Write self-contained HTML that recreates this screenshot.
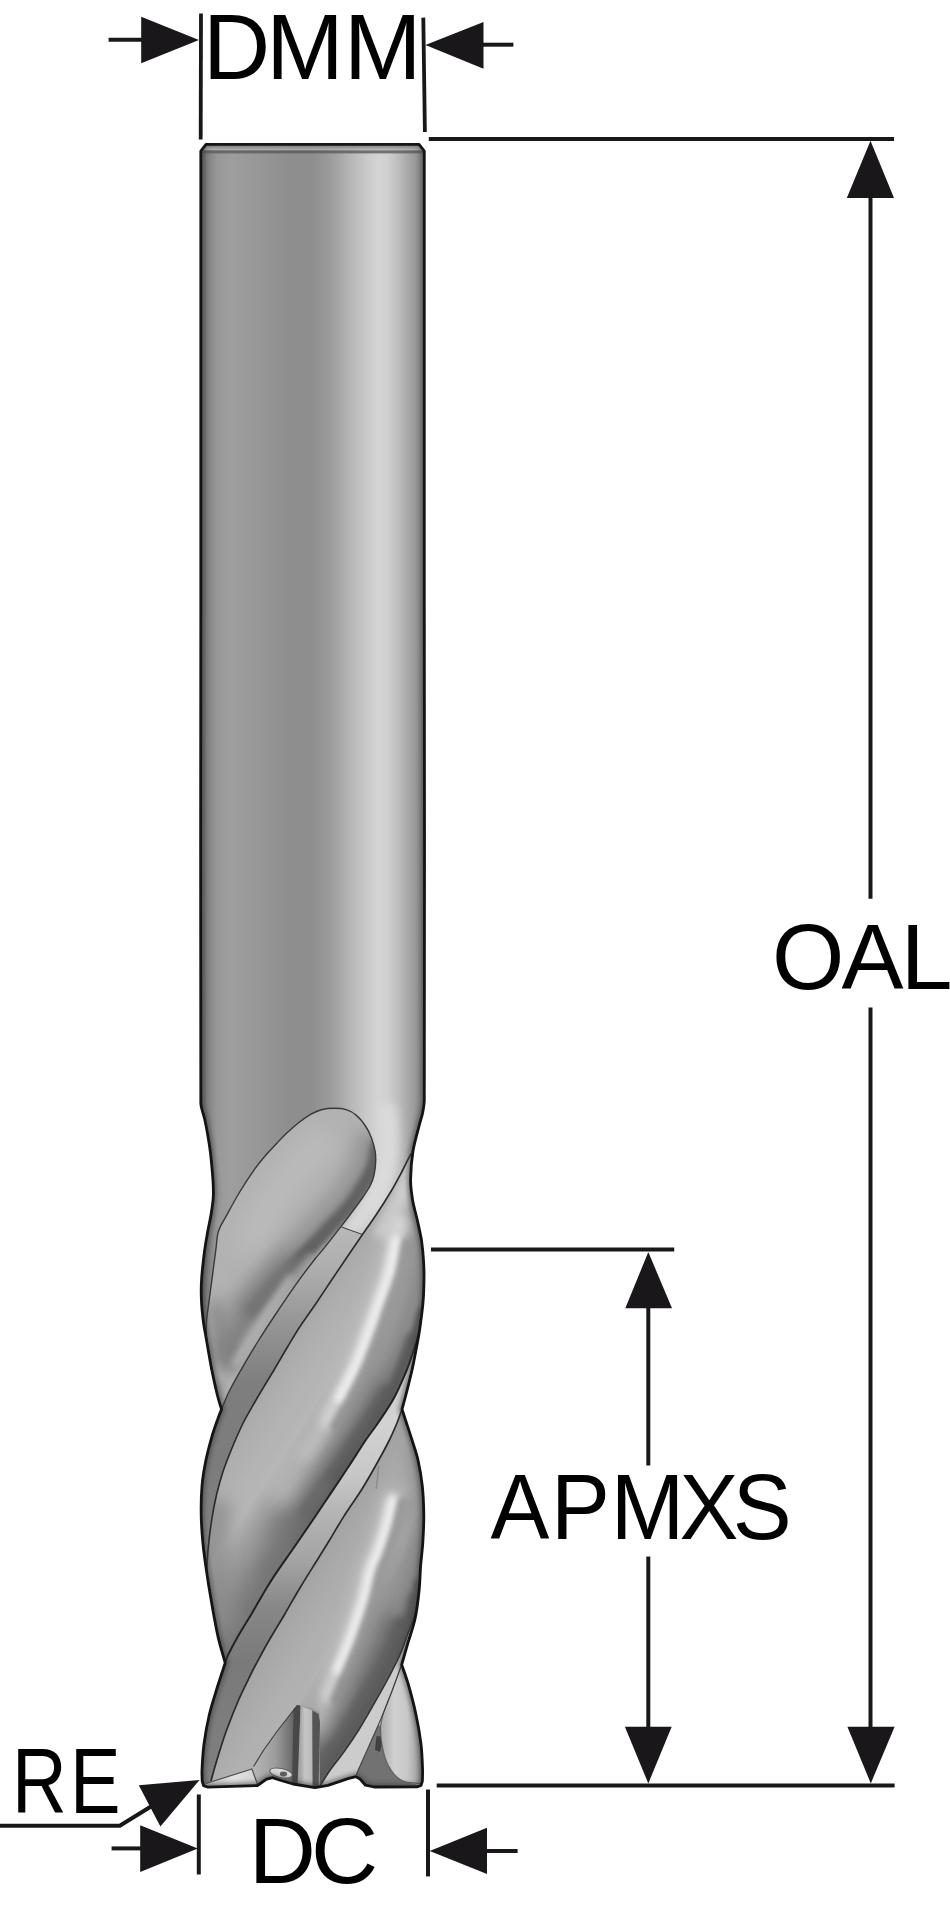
<!DOCTYPE html>
<html lang="en"><head><meta charset="utf-8"><title>End mill dimensions: DMM, OAL, APMXS, RE, DC</title>
<style>html,body{margin:0;padding:0;background:#fff}body{width:950px;height:1906px;overflow:hidden}svg{display:block}text{font-family:"Liberation Sans",Arial,Helvetica,sans-serif;fill:#000}</style>
</head><body>
<svg width="950" height="1906" viewBox="0 0 950 1906">
<defs><linearGradient id="gShank" gradientUnits="userSpaceOnUse" x1="199" y1="0" x2="426" y2="0"><stop offset="0" stop-color="#5a5a5a"/><stop offset="0.012" stop-color="#6a6a6a"/><stop offset="0.04" stop-color="#828282"/><stop offset="0.08" stop-color="#989898"/><stop offset="0.14" stop-color="#9e9e9e"/><stop offset="0.25" stop-color="#989898"/><stop offset="0.4" stop-color="#8e8e8e"/><stop offset="0.5" stop-color="#8e8e8e"/><stop offset="0.58" stop-color="#9c9c9c"/><stop offset="0.66" stop-color="#b4b4b4"/><stop offset="0.74" stop-color="#cacaca"/><stop offset="0.79" stop-color="#d4d4d4"/><stop offset="0.83" stop-color="#d0d0d0"/><stop offset="0.89" stop-color="#b8b8b8"/><stop offset="0.95" stop-color="#9a9a9a"/><stop offset="0.985" stop-color="#848484"/><stop offset="1" stop-color="#606060"/></linearGradient>
<clipPath id="cBody"><path d="M200.8 152.5L200.8 151L206 144.3L419 144.3L424.3 151L424.3 152.5C424.3 301.7 424.3 450.8 424.3 600C424.3 766.7 424.9 933.3 424.3 1100C424.3 1104.4 423.4 1108.7 422.6 1113C421.9 1116.7 420.5 1120.3 419.6 1124C417.3 1133 414.5 1141.9 413 1151C411.5 1160.4 410.7 1170 410.6 1179.5C410.5 1186.4 411.5 1193.2 412.6 1200C413.7 1206.8 415.8 1213.3 417.3 1220C418.8 1227 420.5 1233.9 421.6 1241C422.6 1248 423.2 1255 423.6 1262C424 1267.7 424.1 1273.3 424 1279C423.9 1286.9 423.7 1294.8 423 1302.7C422.2 1311.8 420.9 1320.9 419.6 1330C418.6 1336.7 417.3 1343.3 416 1350C414.7 1357 413.4 1364 411.8 1371C409.9 1379.4 407.7 1387.7 405.6 1396C404.5 1400.4 403.2 1404.9 402 1409.3L402 1409.3C403.5 1413.8 404.9 1418.2 406.4 1422.7C408.3 1428.5 410.2 1434.2 412 1440C414.1 1446.6 416.5 1453.2 418 1460C419.9 1468.6 421.4 1477.3 422.3 1486C423.3 1495.5 423.7 1505.1 423.8 1514.7C423.9 1524.1 423.4 1533.6 422.8 1543C422.3 1550.7 421.2 1558.3 420.6 1566C420 1573.8 420 1581.7 419.2 1589.5C418.2 1599.4 417.1 1609.3 415 1619C413 1628.2 409.6 1637 407 1646C405.2 1652.2 403.5 1658.4 401.7 1664.6L401.7 1664.6C404 1671.4 406.5 1678.1 408.5 1685C411.3 1694.8 413.9 1704.7 416 1714.7C418.1 1724.4 419.8 1734.2 421 1744C422 1752.6 422.3 1761.3 422.6 1770C422.7 1773.7 422.5 1777.3 422.4 1781L421 1785.5L417 1786.8L374 1787L365.5 1785.2L360 1779L355.8 1776.6L348 1778.7L328 1785.3L315 1787.7L293 1784L281 1780.5L272.5 1777.6L266.6 1779.2L257.5 1785.5L208 1787.2L203.5 1785.6L202.2 1781C202.1 1777.3 201.8 1773.7 202 1770C202.4 1761.3 202.9 1752.6 204 1744C205.3 1734.2 207 1724.4 209.3 1714.7C211.7 1704.7 215 1694.9 218 1685C220.3 1677.6 222.8 1670.3 225.2 1663L225.2 1663C222.8 1654.2 220 1645.5 218 1636.6C215.1 1623.4 212.9 1610.1 210.6 1596.8C209.1 1588.4 207.8 1580 206.6 1571.6C205.2 1562.1 203.8 1552.6 202.9 1543C202 1533.6 201.3 1524.1 201.2 1514.7C201 1505.1 201.2 1495.5 202 1486C202.7 1477.5 204.1 1469.1 205.8 1460.8C207.4 1452.9 209.5 1445.1 211.7 1437.3C213.4 1431.3 215.5 1425.5 217.6 1419.6C218.8 1416.1 220.2 1412.7 221.5 1409.3L221.5 1409.3C220.2 1404.9 218.7 1400.5 217.6 1396C215.4 1387.2 213.5 1378.4 211.7 1369.5C209.8 1359.7 208.2 1349.8 206.5 1340C205.5 1334 204.2 1328 203.4 1322C202.5 1314.7 201.7 1307.4 201.4 1300C201.1 1293 201.1 1286 201.6 1279C202.2 1269.5 203.4 1260 204.6 1250.5C205.4 1244.2 206.6 1237.9 207.7 1231.6C208.7 1225.9 210.1 1220.4 211 1214.7C211.9 1209.2 212.8 1203.6 213.2 1198C213.5 1193.7 213.4 1189.3 213.2 1185C213 1179.5 212.5 1173.9 212 1168.4C211.5 1162.8 211 1157.2 210.3 1151.6C209.6 1145.9 208.7 1140.3 207.7 1134.7C206.7 1129.1 205.7 1123.5 204.4 1118C203.8 1115.5 202.8 1113 202.2 1110.5C201.6 1108 200.8 1105.5 200.8 1103C200.3 935.3 200.8 767.7 200.8 600C200.8 450.8 200.8 301.7 200.8 152.5Z"/></clipPath>
<filter id="b2" filterUnits="userSpaceOnUse" x="120" y="1040" width="400" height="800"><feGaussianBlur stdDeviation="2"/></filter>
<filter id="b3" filterUnits="userSpaceOnUse" x="120" y="1040" width="400" height="800"><feGaussianBlur stdDeviation="3"/></filter>
<filter id="b5" filterUnits="userSpaceOnUse" x="120" y="1040" width="400" height="800"><feGaussianBlur stdDeviation="5"/></filter>
<filter id="b8" filterUnits="userSpaceOnUse" x="120" y="1040" width="400" height="800"><feGaussianBlur stdDeviation="8"/></filter>
<filter id="b12" filterUnits="userSpaceOnUse" x="120" y="1040" width="400" height="800"><feGaussianBlur stdDeviation="12"/></filter>
<filter id="b1" filterUnits="userSpaceOnUse" x="120" y="1040" width="400" height="800"><feGaussianBlur stdDeviation="1"/></filter>
<filter id="b06" filterUnits="userSpaceOnUse" x="120" y="1040" width="400" height="800"><feGaussianBlur stdDeviation="0.6"/></filter>
<filter id="bEdge" filterUnits="userSpaceOnUse" x="150" y="100" width="330" height="1740"><feGaussianBlur stdDeviation="2.2"/></filter>
<clipPath id="cF1"><path d="M221.5 1409.3C224 1403.4 226.1 1397.4 229 1391.7C233.3 1383.1 238.2 1374.8 243 1366.4C247.9 1357.8 253 1349.4 258.2 1341C264.3 1331.2 270.7 1321.6 277.1 1312C283.3 1302.7 289.5 1293.4 296 1284.3C302.1 1275.7 308.5 1267.3 315 1259C318 1255.1 321.4 1251.5 324.5 1247.6C329.6 1241.3 334.6 1234.8 339.6 1228.4C344.6 1222 349.5 1215.5 354.3 1209C357.3 1205 360.2 1201.1 363 1197C365.6 1193.1 368.4 1189.2 370.5 1185C372.1 1181.8 373.2 1178.4 374 1175C374.9 1171.1 375.4 1167 375.6 1163C375.8 1159 375.8 1154.9 375.1 1151C374.3 1146.5 373 1142 371.4 1137.7C369.8 1133.6 367.9 1129.6 365.5 1126C363 1122.2 360.2 1118.5 356.7 1115.6C353.7 1113 350.2 1110.9 346.4 1109.7C342.6 1108.5 338.6 1108.3 334.6 1108.3C330.1 1108.3 325.6 1108.6 321.3 1109.7C317.7 1110.6 314.3 1112.3 311 1114.2C306.9 1116.6 303 1119.4 299.2 1122.3C295.1 1125.5 291.2 1129 287.4 1132.6C283.8 1135.9 280.5 1139.4 277.1 1142.9C273.6 1146.5 270.1 1150.2 266.8 1154C262.7 1158.8 258.6 1163.6 255 1168.7C249.6 1176.3 244.5 1184.1 239.7 1192C235.2 1199.4 231.1 1207.1 227 1214.7C224.1 1220.1 220.4 1225.2 218.5 1231C216.7 1236.6 216.8 1242.6 216 1248.4C214.7 1257.9 213.6 1267.3 212.3 1276.8C211.1 1286.2 209.7 1295.6 208.5 1305C207.8 1310.7 206.8 1316.3 206.5 1322C206.2 1328 206.5 1334 206.5 1340C208.2 1349.8 209.8 1359.7 211.7 1369.5C213.5 1378.4 215.4 1387.2 217.6 1396C218.7 1400.5 220.2 1404.9 221.5 1409.3Z"/></clipPath>
<clipPath id="cTop"><path d="M352.2 1113C353.7 1113.9 355.5 1114.4 356.7 1115.6C360 1118.8 363 1122.2 365.5 1126C367.9 1129.6 369.8 1133.6 371.4 1137.7C373 1142 374.3 1146.5 375.1 1151C375.8 1154.9 375.8 1159 375.6 1163C375.4 1167 374.9 1171.1 374 1175C373.2 1178.4 372.1 1181.8 370.5 1185C368.4 1189.2 365.6 1193.1 363 1197C360.2 1201.1 357.3 1205 354.3 1209C349.8 1215.1 345.1 1221.1 340.5 1227.2L362.5 1234.5C367 1228 371.6 1221.6 376 1215C380.8 1207.8 385.5 1200.5 390 1193C394.2 1186 398.1 1178.7 402 1171.5C404.5 1166.9 406.6 1162.1 409 1157.5C409.7 1156.1 410.7 1154.8 411.5 1153.5L430 1140L430 1085L355 1085Z"/></clipPath>
<clipPath id="cL1"><path d="M340.5 1227.2C340.2 1227.6 339.9 1228 339.6 1228.4C334.6 1234.8 329.6 1241.3 324.5 1247.6C321.4 1251.5 318 1255.1 315 1259C308.5 1267.3 302.1 1275.7 296 1284.3C289.5 1293.4 283.3 1302.7 277.1 1312C270.7 1321.6 264.3 1331.2 258.2 1341C253 1349.4 247.9 1357.8 243 1366.4C238.2 1374.8 233.3 1383.1 229 1391.7C226.1 1397.4 224 1403.4 221.5 1409.3C220.2 1412.7 218.8 1416.1 217.6 1419.6C215.5 1425.5 213.4 1431.3 211.7 1437.3C209.5 1445.1 207.4 1452.9 205.8 1460.8C204.1 1469.1 202.7 1477.5 202 1486C201.2 1495.5 201 1505.1 201.2 1514.7C201.3 1524.1 202 1533.6 202.9 1543C203.8 1552.6 205.4 1562.1 206.6 1571.6C207.2 1563.1 207.5 1554.5 208.4 1546C209.3 1536.6 210.5 1527.3 212 1518C213.2 1510.3 214.7 1502.6 216.5 1495C218.3 1487.5 220.3 1480 222.7 1472.6C225.3 1464.6 228.4 1456.8 231.6 1449C235.3 1440.1 239.1 1431.1 243.4 1422.5C247.4 1414.5 252.1 1406.8 256.6 1399C262.4 1389.1 268.4 1379.4 274.3 1369.5C278.7 1362 283 1354.5 287.5 1347C291.6 1340.1 295.6 1333.2 300 1326.5C305.1 1318.8 310.6 1311.3 315.8 1303.7C321.1 1295.8 326.3 1287.9 331.6 1280C337 1272 342.4 1264 347.8 1256C352.7 1248.8 357.6 1241.7 362.5 1234.5Z"/></clipPath>
<linearGradient id="gL1" gradientUnits="userSpaceOnUse" x1="0" y1="1228" x2="0" y2="1572"><stop offset="0" stop-color="#b8b8b8"/><stop offset="0.12" stop-color="#aeaeae"/><stop offset="0.3" stop-color="#929292"/><stop offset="0.45" stop-color="#7e7e7e"/><stop offset="0.7" stop-color="#7c7c7c"/><stop offset="1" stop-color="#868686"/></linearGradient>
<clipPath id="cF2"><path d="M411.5 1153.5C410.7 1154.8 409.7 1156.1 409 1157.5C406.6 1162.1 404.5 1166.9 402 1171.5C398.1 1178.7 394.2 1186 390 1193C385.5 1200.5 380.8 1207.8 376 1215C371.6 1221.6 367 1228 362.5 1234.5C357.6 1241.7 352.7 1248.8 347.8 1256C342.4 1264 337 1272 331.6 1280C326.3 1287.9 321.1 1295.8 315.8 1303.7C310.6 1311.3 305.1 1318.8 300 1326.5C295.6 1333.2 291.6 1340.1 287.5 1347C283 1354.5 278.7 1362 274.3 1369.5C268.4 1379.4 262.4 1389.1 256.6 1399C252.1 1406.8 247.4 1414.5 243.4 1422.5C239.1 1431.1 235.3 1440.1 231.6 1449C228.4 1456.8 225.3 1464.6 222.7 1472.6C220.3 1480 218.3 1487.5 216.5 1495C214.7 1502.6 213.2 1510.3 212 1518C210.5 1527.3 209.3 1536.6 208.4 1546C207.5 1554.5 207.2 1563.1 206.6 1571.6C207.9 1580 209.1 1588.4 210.6 1596.8C212.9 1610.1 215.1 1623.4 218 1636.6C220 1645.5 222.8 1654.2 225.2 1663C226.1 1660.3 226.8 1657.5 228 1655C231.2 1648.5 234.7 1642.1 238.3 1635.8C242.6 1628.3 247.2 1621.1 251.6 1613.7C256.5 1605.5 261.1 1597.2 266 1589C268.7 1584.5 271.5 1580 274.4 1575.6C281.1 1565.6 288.2 1555.9 295 1546C301.4 1536.7 307.8 1527.4 314.2 1518C320.1 1509.2 326 1500.4 331.9 1491.6C337.8 1482.7 343.8 1473.9 349.6 1465C355.1 1456.7 360.2 1448.2 365.8 1440C369.7 1434.2 374.1 1428.8 378 1423C383.5 1414.8 389.3 1406.7 394 1398C398.7 1389.3 402.5 1380.1 406.4 1371C408.3 1366.4 409.9 1361.7 411.5 1357C413.4 1351.4 415.3 1345.7 417 1340C418 1336.7 418.7 1333.3 419.6 1330C420.7 1320.9 422.2 1311.8 423 1302.7C423.7 1294.8 423.9 1286.9 424 1279C424.1 1273.3 424 1267.7 423.6 1262C423.2 1255 422.6 1248 421.6 1241C420.5 1233.9 418.8 1227 417.3 1220C415.8 1213.3 413.7 1206.8 412.6 1200C411.5 1193.2 410.6 1186.4 410.6 1179.5C410.6 1171 412 1162.5 412.7 1154Z"/></clipPath>
<linearGradient id="gF2" gradientUnits="userSpaceOnUse" x1="313.6" y1="1307" x2="412.6" y2="1371.3"><stop offset="0" stop-color="#a8a8a8"/><stop offset="0.12" stop-color="#aeaeae"/><stop offset="0.32" stop-color="#b4b4b4"/><stop offset="0.46" stop-color="#b6b6b6"/><stop offset="0.58" stop-color="#a2a2a2"/><stop offset="0.72" stop-color="#929292"/><stop offset="0.86" stop-color="#808080"/><stop offset="1" stop-color="#787878"/></linearGradient>
<clipPath id="cL2"><path d="M419.6 1330C418.7 1333.3 418 1336.7 417 1340C415.3 1345.7 413.4 1351.4 411.5 1357C409.9 1361.7 408.3 1366.4 406.4 1371C402.5 1380.1 398.7 1389.3 394 1398C389.3 1406.7 383.5 1414.8 378 1423C374.1 1428.8 369.7 1434.2 365.8 1440C360.2 1448.2 355.1 1456.7 349.6 1465C343.8 1473.9 337.8 1482.7 331.9 1491.6C326 1500.4 320.1 1509.2 314.2 1518C307.8 1527.4 301.4 1536.7 295 1546C288.2 1555.9 281.1 1565.6 274.4 1575.6C271.5 1580 268.7 1584.5 266 1589C261.1 1597.2 256.5 1605.5 251.6 1613.7C247.2 1621.1 242.6 1628.3 238.3 1635.8C234.7 1642.1 231.2 1648.5 228 1655C226.8 1657.5 226.1 1660.3 225.2 1663C222.8 1670.3 220.3 1677.6 218 1685C215 1694.9 211.7 1704.7 209.3 1714.7C207 1724.4 205.3 1734.2 204 1744C202.9 1752.6 202.4 1761.3 202 1770C201.8 1773.7 202.1 1777.3 202.2 1781L208 1787.2L211 1781C212.1 1777 213.1 1773 214.3 1769C216 1763.2 217.7 1757.4 219.5 1751.6C221.8 1744.2 224.1 1736.8 226.8 1729.5C230.5 1719.6 234.4 1709.7 238.6 1700C241.5 1693.2 244.8 1686.6 248 1680C250.9 1674.1 253.9 1668.1 257 1662.3C261.2 1654.4 265.5 1646.5 270 1638.7C274.9 1630.3 280.1 1622.1 285 1613.7C290.2 1604.8 295.2 1595.8 300.5 1587C305.5 1578.6 310.8 1570.3 316 1562C320.3 1555 324.7 1548 329 1541C333.9 1532.9 338.6 1524.6 343.7 1516.6C349.4 1507.6 355.7 1499 361.4 1490C366.5 1481.8 371.3 1473.4 376 1465C380.6 1456.8 385.2 1448.5 389.4 1440C392.2 1434.4 394.6 1428.7 397 1423C398.8 1418.5 400.3 1413.9 402 1409.3C403.2 1404.9 404.5 1400.4 405.6 1396C407.7 1387.7 409.9 1379.4 411.8 1371C413.4 1364 414.7 1357 416 1350C417.3 1343.3 418.4 1336.7 419.6 1330Z"/></clipPath>
<linearGradient id="gL2" gradientUnits="userSpaceOnUse" x1="0" y1="1330" x2="0" y2="1790"><stop offset="0" stop-color="#c0c0c0"/><stop offset="0.1" stop-color="#cccccc"/><stop offset="0.2" stop-color="#d2d2d2"/><stop offset="0.31" stop-color="#c8c8c8"/><stop offset="0.4" stop-color="#b4b4b4"/><stop offset="0.5" stop-color="#a4a4a4"/><stop offset="0.6" stop-color="#888888"/><stop offset="0.72" stop-color="#7a7a7a"/><stop offset="1" stop-color="#808080"/></linearGradient>
<clipPath id="cF3"><path d="M402 1409.3C400.3 1413.9 398.8 1418.5 397 1423C394.6 1428.7 392.2 1434.4 389.4 1440C385.2 1448.5 380.6 1456.8 376 1465C371.3 1473.4 366.5 1481.8 361.4 1490C355.7 1499 349.4 1507.6 343.7 1516.6C338.6 1524.6 333.9 1532.9 329 1541C324.7 1548 320.3 1555 316 1562C310.8 1570.3 305.5 1578.6 300.5 1587C295.2 1595.8 290.2 1604.8 285 1613.7C280.1 1622.1 274.9 1630.3 270 1638.7C265.5 1646.5 261.2 1654.4 257 1662.3C253.9 1668.1 250.9 1674.1 248 1680C244.8 1686.6 241.5 1693.2 238.6 1700C234.4 1709.7 230.5 1719.6 226.8 1729.5C224.1 1736.8 221.8 1744.2 219.5 1751.6C217.7 1757.4 216 1763.2 214.3 1769C213.1 1773 212.1 1777 211 1781L211 1781L208 1787.2L257.5 1785.5L266.6 1779.2L272.5 1777.6L281 1780.5L293 1784L315 1787.7L320 1786C323.2 1781 326.1 1775.8 329.5 1771C334.2 1764.4 339.5 1758.2 344.2 1751.6C349.3 1744.4 354.3 1737 359 1729.5C364.1 1721.3 368.9 1712.8 373.7 1704.4C378.7 1695.7 383.7 1686.9 388.4 1678C392.5 1670.2 396.7 1662.4 400.2 1654.3C403.6 1646.6 406 1638.5 409 1630.7C411.4 1624.3 414.4 1618.1 416.4 1611.6C417.5 1607.9 417.6 1603.9 418.2 1600C418.2 1596.5 418.9 1593 419.2 1589.5C419.9 1581.7 420 1573.8 420.6 1566C421.2 1558.3 422.3 1550.7 422.8 1543C423.4 1533.6 423.9 1524.1 423.8 1514.7C423.7 1505.1 423.3 1495.5 422.3 1486C421.4 1477.3 419.9 1468.6 418 1460C416.5 1453.2 414.1 1446.6 412 1440C410.2 1434.2 408.3 1428.5 406.4 1422.7C404.9 1418.2 403.5 1413.8 402 1409.3Z"/></clipPath>
<linearGradient id="gF3" gradientUnits="userSpaceOnUse" x1="344.7" y1="1509.5" x2="451.6" y2="1576.3"><stop offset="0" stop-color="#a2a2a2"/><stop offset="0.12" stop-color="#a8a8a8"/><stop offset="0.35" stop-color="#b0b0b0"/><stop offset="0.5" stop-color="#b2b2b2"/><stop offset="0.62" stop-color="#989898"/><stop offset="0.8" stop-color="#888888"/><stop offset="1" stop-color="#787878"/></linearGradient>
<clipPath id="cF4"><path d="M418.2 1600C417.6 1603.9 417.5 1607.9 416.4 1611.6C414.4 1618.1 411.4 1624.3 409 1630.7C406 1638.5 403.6 1646.6 400.2 1654.3C396.7 1662.4 392.5 1670.2 388.4 1678C383.7 1686.9 378.7 1695.7 373.7 1704.4C368.9 1712.8 364.1 1721.3 359 1729.5C354.3 1737 349.3 1744.4 344.2 1751.6C339.5 1758.2 334.2 1764.4 329.5 1771C326.1 1775.8 323.2 1781 320 1786L320 1786L328 1785.3L348 1778.7L355.8 1776.6L360 1779L365.5 1785.2L374 1787L417 1786.8L421 1785.5L422.4 1781C422.5 1777.3 422.7 1773.7 422.6 1770C422.3 1761.3 422 1752.6 421 1744C419.8 1734.2 418.1 1724.4 416 1714.7C413.9 1704.7 411.3 1694.8 408.5 1685C406.5 1678.1 402 1671.8 401.7 1664.6C401.5 1658.2 405.2 1652.2 407 1646C409.6 1637 412.9 1628.1 415 1619C416.5 1612.8 416.8 1606.3 417.7 1600Z"/></clipPath>
<linearGradient id="gLobe" gradientUnits="userSpaceOnUse" x1="382" y1="0" x2="424" y2="0"><stop offset="0" stop-color="#b0b0b0"/><stop offset="0.3" stop-color="#d0d0d0"/><stop offset="0.6" stop-color="#c8c8c8"/><stop offset="0.85" stop-color="#a4a4a4"/><stop offset="1" stop-color="#848484"/></linearGradient>
<linearGradient id="gGashL" gradientUnits="userSpaceOnUse" x1="255" y1="0" x2="296" y2="0"><stop offset="0" stop-color="#b4b4b4"/><stop offset="0.5" stop-color="#9c9c9c"/><stop offset="0.85" stop-color="#747474"/><stop offset="1" stop-color="#585858"/></linearGradient>
<linearGradient id="gGashM" gradientUnits="userSpaceOnUse" x1="300" y1="0" x2="313" y2="0"><stop offset="0" stop-color="#a4a4a4"/><stop offset="0.4" stop-color="#c6c6c6"/><stop offset="1" stop-color="#b8b8b8"/></linearGradient>
<linearGradient id="gFacet" gradientUnits="userSpaceOnUse" x1="209" y1="0" x2="258" y2="0"><stop offset="0" stop-color="#c8c8c8"/><stop offset="0.5" stop-color="#e2e2e2"/><stop offset="1" stop-color="#d2d2d2"/></linearGradient></defs>
<rect width="950" height="1906" fill="#fff"/>
<g clip-path="url(#cBody)">
<rect x="190" y="140" width="245" height="1655" fill="url(#gShank)"/>
<rect x="190" y="140" width="245" height="10.4" fill="#c4c4c4" opacity=".8"/>
<rect x="190" y="150.4" width="245" height="3" fill="#5c5c5c" opacity=".8"/>
<g clip-path="url(#cF1)"><rect x="190" y="1090" width="245" height="710" fill="#b2b2b2"/>
<path d="M330 1135C320 1145 309.2 1154.3 300 1165C289.2 1177.7 279.1 1191 270 1205C260.7 1219.4 253.3 1235 245 1250" fill="none" stroke="#bebebe" stroke-width="30" filter="url(#b12)" opacity="0.8"/>
<path d="M369.2 1144.4C367.9 1150.8 367.5 1157.3 365.4 1163.4C363.5 1169.2 360.3 1174.6 357.1 1179.9C352.7 1187.2 348.1 1194.4 342.7 1201C337.4 1207.8 331.1 1213.7 325.2 1220C318.8 1226.9 312.4 1233.7 305.9 1240.4C298.6 1247.9 291 1255 283.8 1262.4C277 1269.4 270.3 1276.4 264 1283.7C257.7 1290.9 251.9 1298.5 245.8 1305.9" fill="none" stroke="#848484" stroke-width="30" stroke-linecap="round" filter="url(#b8)" opacity="0.6"/>
<path d="M377 1146C375.7 1152.7 375.2 1159.6 373 1166C370.8 1172.3 367.5 1178.2 364 1184C359.4 1191.6 354.5 1199.1 349 1206C343.5 1212.9 337 1219 331 1225.5C324.6 1232.4 318.2 1239.3 311.6 1246C304.3 1253.4 296.7 1260.5 289.5 1268C282.9 1274.9 276.3 1281.8 270 1289C263.8 1296.1 258 1303.7 252 1311" fill="none" stroke="#626262" stroke-width="14" stroke-linecap="round" filter="url(#b3)" opacity="0.95"/>
<path d="M378 1146.2C376.6 1152.9 376.2 1159.9 373.9 1166.3C371.7 1172.7 368.3 1178.7 364.9 1184.5C360.3 1192.2 355.3 1199.6 349.8 1206.6C344.3 1213.6 337.8 1219.7 331.7 1226.2C325.3 1233.1 318.9 1240 312.3 1246.7C305.1 1254.1 297.6 1261.4 290.2 1268.7" fill="none" stroke="#606060" stroke-width="8" filter="url(#b2)" opacity="0.7"/>
<path d="M289.5 1268C283 1275 276.3 1281.8 270 1289C263.8 1296.1 257.6 1303.4 252 1311C246.6 1318.4 241.6 1326.1 237 1334C233.3 1340.4 230.3 1347.3 227 1354" fill="none" stroke="#7a7a7a" stroke-width="26" stroke-linecap="round" filter="url(#b8)" opacity="0.85"/>
<path d="M216 1310C218 1320 219.7 1330.1 222 1340C223.7 1347.4 226 1354.7 228 1362" fill="none" stroke="#808080" stroke-width="22" stroke-linecap="round" filter="url(#b8)" opacity="0.7"/>
<path d="M289.8 1280.1C283.5 1289.3 277.1 1298.5 270.9 1307.8C264.4 1317.5 258 1327.2 251.8 1337C246.6 1345.4 241.7 1354 236.6 1362.5" fill="none" stroke="#b2b2b2" stroke-width="9" stroke-linecap="round" filter="url(#b3)" opacity="0.85"/>
<path d="M310.2 1255.4C303.9 1263.8 297.5 1272.3 291.2 1280.7" fill="none" stroke="#aaaaaa" stroke-width="6" stroke-linecap="round" filter="url(#b3)" opacity="0.6"/>
<path d="M219 1385C220 1391.7 221 1398.3 222 1405" fill="none" stroke="#9c9c9c" stroke-width="12" stroke-linecap="round" filter="url(#b3)" opacity="0.8"/>
</g>
<g clip-path="url(#cTop)">
<path d="M388 1112C388.7 1121.3 390.2 1130.6 390 1140C389.8 1149.4 389.3 1158.9 387 1168C384.6 1177.4 380.6 1186.4 376 1195C372.2 1202.2 366.8 1208.4 362 1215C358.1 1220.4 354 1225.7 350 1231" fill="none" stroke="#dcdcdc" stroke-width="18" stroke-linecap="round" filter="url(#b5)" opacity="0.9"/>
</g>
<g clip-path="url(#cL1)"><rect x="190" y="1090" width="245" height="710" fill="url(#gL1)"/></g>
<g clip-path="url(#cF2)"><rect x="190" y="1090" width="245" height="710" fill="url(#gF2)"/>
<path d="M418 1205C420.7 1215 424.4 1224.8 426 1235C427.8 1246.5 428.2 1258.3 428 1270C427.8 1283.4 426.5 1296.7 425 1310C423.8 1320.1 421.7 1330 420 1340" fill="none" stroke="#8a8a8a" stroke-width="44" filter="url(#b8)" opacity="0.85"/>
<path d="M414 1160C411.7 1167.3 409.7 1174.8 407 1182C404.3 1189.1 401.1 1196.1 398 1203C395.1 1209.4 392.1 1215.7 389 1222C386.4 1227.4 383.7 1232.7 381 1238" fill="none" stroke="#d2d2d2" stroke-width="18" filter="url(#b5)" opacity="0.9"/>
<path d="M421.2 1310.9C419.4 1316.9 417.5 1322.9 415.8 1328.9C414.8 1332.2 414.2 1335.6 413.2 1338.9C411.5 1344.5 409.6 1350.1 407.7 1355.7C406.1 1360.3 404.6 1365 402.7 1369.4C398.9 1378.4 395.2 1387.5 390.5 1396.1C385.8 1404.7 380.1 1412.7 374.7 1420.8C370.8 1426.6 366.4 1432 362.5 1437.8C356.9 1446 351.7 1454.5 346.3 1462.8C340.4 1471.7 334.5 1480.5 328.6 1489.4C322.7 1498.2 316.8 1507 310.9 1515.8C304.5 1525.1 298.1 1534.4 291.7 1543.7" fill="none" stroke="#5a5a5a" stroke-width="8" stroke-linecap="round" filter="url(#b2)" opacity="0.8"/>
<path d="M310.1 1515.2C303.7 1524.5 297.3 1533.9 290.9 1543.2C284 1553.1 277 1562.8 270.3 1572.8C267.3 1577.3 264.5 1581.8 261.7 1586.4C256.8 1594.6 252.1 1602.9 247.3 1611.2" fill="none" stroke="#747474" stroke-width="9" stroke-linecap="round" filter="url(#b3)" opacity="0.7"/>
<path d="M411.3 1338.2C409.5 1343.8 407.7 1349.5 405.8 1355.1C404.3 1359.6 402.8 1364.2 400.9 1368.6C397.1 1377.6 393.4 1386.6 388.7 1395.1C384.1 1403.7 378.2 1411.6 372.9 1419.8" fill="none" stroke="#585858" stroke-width="11" stroke-linecap="round" filter="url(#b3)" opacity="0.8"/>
<path d="M386.4 1393.1C381.1 1401.4 376 1409.8 370.5 1418C366.6 1423.8 362.2 1429.2 358.3 1435C352.8 1443.2 347.6 1451.7 342.1 1460.1C336.2 1468.9 330.3 1477.8 324.4 1486.6C318.5 1495.4 312.6 1504.2 306.7 1513" fill="none" stroke="#585858" stroke-width="17" stroke-linecap="round" filter="url(#b3)" opacity="0.85"/>
<path d="M324.4 1486.6C318.5 1495.4 312.7 1504.2 306.8 1512.9C300.4 1522.3 294 1531.6 287.6 1540.9C280.8 1550.8 273.9 1560.6 267 1570.5" fill="none" stroke="#707070" stroke-width="16" stroke-linecap="round" filter="url(#b5)" opacity="0.7"/>
<path d="M376.3 1386.7C371.1 1394.9 366 1403.2 360.6 1411.3C356.7 1417.1 352.3 1422.5 348.4 1428.2C342.8 1436.5 337.6 1445.1 332 1453.5C326.2 1462.3 320.3 1471.1 314.4 1479.9C308.6 1488.7 302.7 1497.5 296.8 1506.2C290.5 1515.5 284.1 1524.8 277.7 1534.1" fill="none" stroke="#707070" stroke-width="20" stroke-linecap="round" filter="url(#b8)" opacity="0.55"/>
<path d="M284.3 1538.6C277.4 1548.5 270.4 1558.3 263.6 1568.3C260.5 1572.9 257.7 1577.6 254.8 1582.3C249.9 1590.5 245.2 1598.9 240.4 1607.2" fill="none" stroke="#808080" stroke-width="18" stroke-linecap="round" filter="url(#b8)" opacity="0.5"/>
<path d="M400 1222C398.8 1228.2 397.5 1234.3 396.3 1240.5C394.2 1251 392.8 1261.7 390 1272C387 1282.8 382.7 1293.1 379 1303.7C375.4 1314.1 371.9 1324.6 368 1335C364 1345.7 360 1356.5 355.3 1367C350.5 1377.7 344.9 1388 339.5 1398.4C335.4 1406.3 331.4 1414.4 326.8 1422C319.9 1433.3 312.1 1443.9 305 1455C297.2 1467.2 289.7 1479.7 282 1492" fill="none" stroke="#c4c4c4" stroke-width="28" stroke-linecap="round" filter="url(#b8)" opacity="0.55"/>
<path d="M400 1222C398.8 1228.2 397.5 1234.3 396.3 1240.5C394.2 1251 392.8 1261.7 390 1272C387 1282.8 382.7 1293.1 379 1303.7C375.4 1314.1 371.9 1324.6 368 1335C364 1345.7 360 1356.5 355.3 1367C350.5 1377.7 344.9 1388 339.5 1398.4C335.4 1406.3 331.4 1414.4 326.8 1422C319.9 1433.3 312.3 1444 305 1455" fill="none" stroke="#cccccc" stroke-width="14" stroke-linecap="round" filter="url(#b5)" opacity="0.4"/>
<path d="M400 1222C398.8 1228.2 397.5 1234.3 396.3 1240.5C394.2 1251 392.8 1261.7 390 1272C387 1282.8 382.7 1293.1 379 1303.7C375.4 1314.1 371.9 1324.6 368 1335C364 1345.7 360 1356.5 355.3 1367C350.5 1377.7 344.9 1388 339.5 1398.4C335.4 1406.3 331 1414.1 326.8 1422" fill="none" stroke="#dcdcdc" stroke-width="14" stroke-linecap="round" filter="url(#b5)" opacity="0.8"/>
<path d="M409 1243C406.9 1253.8 405.4 1264.8 402.5 1275.4C399.5 1286.5 395.1 1297.1 391.3 1308C387.6 1318.5 384.1 1329.1 380.2 1339.6C376 1350.6 372 1361.6 367.2 1372.3C362.3 1383.2 356.5 1393.8 351 1404.4C346.9 1412.4 342.5 1420.2 338.2 1428.2" fill="none" stroke="#8a8a8a" stroke-width="15" stroke-linecap="round" filter="url(#b5)" opacity="0.55"/>
<path d="M396.3 1240.5C394.2 1251 392.8 1261.7 390 1272C387 1282.8 382.7 1293.1 379 1303.7C375.4 1314.1 371.9 1324.6 368 1335C364 1345.7 360 1356.5 355.3 1367C350.5 1377.7 344.8 1387.9 339.5 1398.4" fill="none" stroke="#f0f0f0" stroke-width="10" stroke-linecap="round" filter="url(#b3)" opacity="0.9"/>
<path d="M404.6 1242.2C402.5 1252.9 401.1 1263.7 398.2 1274.2C395.2 1285.2 390.8 1295.8 387 1306.5C383.4 1317 379.9 1327.6 376 1338C371.9 1348.9 367.8 1359.9 363.1 1370.5C358.2 1381.3 352.5 1391.8 347 1402.3C342.9 1410.3 338.5 1418.1 334.3 1426" fill="none" stroke="#8c8c8c" stroke-width="7" stroke-linecap="round" filter="url(#b2)" opacity="0.55"/>
<path d="M214 1500C213 1520 210.1 1540 211 1560C212.1 1583.5 217 1606.7 220 1630" fill="none" stroke="#888888" stroke-width="36" filter="url(#b8)" opacity="0.7"/>
</g>
<g clip-path="url(#cL2)"><rect x="190" y="1090" width="245" height="710" fill="url(#gL2)"/></g>
<g clip-path="url(#cF3)"><rect x="190" y="1090" width="245" height="710" fill="url(#gF3)"/>
<path d="M427 1440C428.3 1460 430.5 1480 431 1500C431.5 1520 431.3 1540 430 1560C428.9 1576.8 426 1593.3 424 1610" fill="none" stroke="#808080" stroke-width="36" filter="url(#b8)" opacity="0.75"/>
<path d="M417.6 1579.3C416.5 1586 415.3 1592.7 414.3 1599.4C413.7 1603.1 413.6 1606.9 412.6 1610.5C410.6 1616.9 407.6 1623 405.3 1629.3C402.3 1637.1 399.9 1645.1 396.5 1652.7C393.1 1660.7 388.9 1668.4 384.9 1676.1C380.2 1685 375.2 1693.7 370.2 1702.4C365.4 1710.8 360.7 1719.2 355.6 1727.4C351 1734.8 346 1742.1 340.9 1749.3C336.2 1755.9 330.9 1762.1 326.2 1768.7C322.8 1773.6 320 1778.8 316.7 1783.8C314.2 1787.5 311.4 1791 308.8 1794.6" fill="none" stroke="#5a5a5a" stroke-width="8" filter="url(#b2)" opacity="0.8"/>
<path d="M412.3 1599.1C411.7 1602.7 411.7 1606.4 410.7 1609.9C408.7 1616.3 405.8 1622.3 403.4 1628.6C400.4 1636.4 397.5 1644.3 394.6 1652.2" fill="none" stroke="#585858" stroke-width="11" stroke-linecap="round" filter="url(#b3)" opacity="0.8"/>
<path d="M399.6 1627.2C396.8 1634.9 394.3 1642.8 391 1650.3C387.6 1658.2 383.6 1665.7 379.6 1673.3C374.9 1682.1 370 1690.8 365 1699.4C360.3 1707.7 355.6 1716.1 350.5 1724.2C345.9 1731.6 341.1 1738.7 336 1745.8C331.3 1752.4 326 1758.6 321.3 1765.2C317.9 1770.1 315 1775.4 311.7 1780.4C309.2 1784.1 306.5 1787.6 303.9 1791.1" fill="none" stroke="#585858" stroke-width="20" stroke-linecap="round" filter="url(#b3)" opacity="0.9"/>
<path d="M387.4 1622.7C384.7 1630.1 382.3 1637.8 379.1 1645.1C375.8 1652.7 371.9 1660 368.1 1667.2C363.5 1675.9 358.6 1684.5 353.7 1693C349.1 1701.2 344.5 1709.3 339.5 1717.3C335 1724.4 330.3 1731.4 325.5 1738.3C320.7 1744.9 315.4 1751.1 310.7 1757.8C307.2 1762.7 304.3 1768.1 300.9 1773.2C298.5 1776.7 295.9 1780 293.4 1783.5" fill="none" stroke="#6c6c6c" stroke-width="24" stroke-linecap="round" filter="url(#b8)" opacity="0.6"/>
<path d="M393 1500C390.9 1508.7 389.2 1517.4 386.8 1526C384.2 1535.1 381.2 1544.1 378 1553C376.2 1558.1 373.2 1562.8 371.6 1568C368.4 1578.3 366.8 1589.1 363.7 1599.5C359.7 1612.8 355.3 1626 350.5 1639C346.5 1649.7 341.7 1660 337.4 1670.5C333.8 1679.3 330.4 1688.2 326.8 1697C322.9 1706.4 318.9 1715.7 315 1725" fill="none" stroke="#c4c4c4" stroke-width="24" stroke-linecap="round" filter="url(#b8)" opacity="0.7"/>
<path d="M393 1500C390.9 1508.7 389.2 1517.4 386.8 1526C384.2 1535.1 381.2 1544.1 378 1553C376.2 1558.1 373.2 1562.8 371.6 1568C368.4 1578.3 366.8 1589.1 363.7 1599.5C359.7 1612.8 355.3 1626 350.5 1639C346.5 1649.7 341.7 1660 337.4 1670.5C333.8 1679.3 330.3 1688.2 326.8 1697" fill="none" stroke="#dcdcdc" stroke-width="13" stroke-linecap="round" filter="url(#b5)" opacity="0.8"/>
<path d="M405.6 1503C403.5 1511.9 401.8 1520.8 399.3 1529.5C396.6 1538.9 393.5 1548.2 390.2 1557.4C388.4 1562.3 385.6 1566.8 384 1571.8C380.9 1582.1 379.2 1592.9 376.2 1603.2C372.1 1616.8 367.6 1630.2 362.7 1643.5C358.7 1654.3 353.8 1664.8 349.4 1675.4C345.8 1684.2 342.4 1693 338.9 1701.8" fill="none" stroke="#888888" stroke-width="15" stroke-linecap="round" filter="url(#b5)" opacity="0.5"/>
<path d="M393 1500C390.9 1508.7 389.2 1517.4 386.8 1526C384.2 1535.1 381.2 1544.1 378 1553C376.2 1558.1 373.2 1562.8 371.6 1568C368.4 1578.3 366.8 1589.1 363.7 1599.5C359.7 1612.8 355.3 1626 350.5 1639C346.5 1649.7 341.8 1660 337.4 1670.5" fill="none" stroke="#f0f0f0" stroke-width="9.5" stroke-linecap="round" filter="url(#b3)" opacity="0.9"/>
<path d="M400.8 1501.9C398.7 1510.6 397 1519.5 394.5 1528.2C391.9 1537.5 388.8 1546.6 385.5 1555.7C383.7 1560.7 380.8 1565.3 379.2 1570.4C376.1 1580.7 374.4 1591.4 371.4 1601.8C367.4 1615.3 362.9 1628.6 358 1641.8C354 1652.5 349.1 1662.9 344.8 1673.5C341.2 1682.3 337.8 1691.2 334.2 1700" fill="none" stroke="#888888" stroke-width="7" stroke-linecap="round" filter="url(#b2)" opacity="0.55"/>
</g>
<g clip-path="url(#cF4)"><rect x="190" y="1090" width="245" height="710" fill="#cccccc"/>
<path d="M378.7 1724C375.1 1732.2 371.4 1740.4 367.8 1748.6C363.9 1757.4 359.9 1766.2 356 1775L360 1779L365.5 1785.2L374 1787L422 1787C415 1782.7 407.2 1783.5 401 1780C395.2 1776.8 391.2 1770.8 388 1765C384.8 1759.2 383.5 1752.5 382.2 1746C381 1739.8 381.1 1733.3 380.6 1727Z" fill="#727272"/>
<path d="M376.5 1736 L383.5 1737 L380 1752 L375 1750Z" fill="#404040"/>
<path d="M401.7 1664.6C398.3 1673.9 394.9 1683.3 391.4 1692.6C388.8 1699.4 385.7 1706 383.5 1713C382.1 1717.5 380.8 1722.2 380.6 1727C380.3 1733.4 381 1739.8 382.2 1746C383.5 1752.5 384.8 1759.2 388 1765C391.2 1770.8 395.2 1776.8 401 1780C407.2 1783.5 415 1782.7 422 1784L430 1790L430 1660Z" fill="url(#gLobe)"/>
<path d="M401.7 1664.6C398.3 1673.9 394.9 1683.3 391.4 1692.6C388.8 1699.4 385.7 1706 383.5 1713C382.1 1717.5 380.8 1722.2 380.6 1727C380.3 1733.4 381 1739.8 382.2 1746C383.5 1752.5 384.8 1759.2 388 1765C391.2 1770.8 395.2 1776.8 401 1780C407.2 1783.5 415 1782.7 422 1784" fill="none" stroke="#505050" stroke-width="1.2" opacity="0.8"/>
<path d="M401.7 1664.6C398.3 1673.9 395 1683.3 391.4 1692.6C387.6 1702.5 383.7 1712.3 379.6 1722C375.8 1730.9 371.7 1739.7 367.8 1748.6C363.9 1757.4 359.9 1766.2 356 1775" fill="none" stroke="#383838" stroke-width="1.1" opacity="0.9"/>
</g>
<path d="M297.6 1705 L278.4 1729.5 L263.7 1750 L253.6 1766.5 L256 1772 L258 1786 L320 1790 L319.5 1712 L312 1708Z" fill="#989898"/>
<path d="M297.6 1705 L278.4 1729.5 L263.7 1750 L253.6 1766.5 L258 1786 L296 1786 Z" fill="url(#gGashL)"/>
<path d="M293.6 1709 L298.2 1705 L300.6 1706 L297.5 1786 L292 1786 Z" fill="#484848"/>
<path d="M300.6 1706 L312.3 1710.5 L313 1790 L298 1790 Z" fill="url(#gGashM)"/>
<path d="M312.3 1710.5 L318.5 1714 L320 1722 L318.5 1790 L312.6 1790 Z" fill="#545454"/>
<path d="M206 1783.5 L251.9 1769 L257.8 1784 L258 1790 L204 1790 Z" fill="url(#gFacet)"/>
<path d="M206 1783.5 L251.9 1769 L257.8 1785" fill="none" stroke="#505050" stroke-width="1.2"/>
<ellipse cx="281" cy="1773" rx="11.5" ry="4.6" transform="rotate(12 281 1773)" fill="#d8d8d8" stroke="#606060" stroke-width="1"/>
<ellipse cx="283.5" cy="1774" rx="3.6" ry="2.4" fill="#606060"/>
<path d="M297.6 1705 L278.4 1729.5 L263.7 1750 L253.6 1766.5" fill="none" stroke="#404040" stroke-width="1.2"/>
<path d="M206.5 1340C206.5 1334 206.2 1328 206.5 1322C206.8 1316.3 207.8 1310.7 208.5 1305C209.7 1295.6 211.1 1286.2 212.3 1276.8C213.6 1267.3 214.7 1257.9 216 1248.4C216.8 1242.6 216.7 1236.6 218.5 1231C220.4 1225.2 224.1 1220.1 227 1214.7C231.1 1207.1 235.2 1199.4 239.7 1192C244.5 1184.1 249.6 1176.3 255 1168.7C258.6 1163.6 262.7 1158.8 266.8 1154C270.1 1150.2 273.6 1146.5 277.1 1142.9C280.5 1139.4 283.8 1135.9 287.4 1132.6C291.2 1129 295.1 1125.5 299.2 1122.3C303 1119.4 306.9 1116.6 311 1114.2C314.3 1112.3 317.7 1110.6 321.3 1109.7C325.6 1108.6 330.1 1108.3 334.6 1108.3C338.6 1108.3 342.6 1108.5 346.4 1109.7C350.2 1110.9 353.7 1113 356.7 1115.6C360.2 1118.5 363 1122.2 365.5 1126C367.9 1129.6 369.8 1133.6 371.4 1137.7C373 1142 374.3 1146.5 375.1 1151C375.8 1154.9 375.8 1159 375.6 1163C375.4 1167 374.9 1171.1 374 1175C373.2 1178.4 372.1 1181.8 370.5 1185C368.4 1189.2 365.6 1193.1 363 1197C360.2 1201.1 357.3 1205 354.3 1209C349.5 1215.5 344.6 1222 339.6 1228.4C334.6 1234.8 329.6 1241.3 324.5 1247.6C321.4 1251.5 318 1255.1 315 1259C308.5 1267.3 302.1 1275.7 296 1284.3C289.5 1293.4 283.3 1302.7 277.1 1312C270.7 1321.6 264.3 1331.2 258.2 1341C253 1349.4 247.9 1357.8 243 1366.4C238.2 1374.8 233.3 1383.1 229 1391.7C226.1 1397.4 224 1403.4 221.5 1409.3" fill="none" stroke="#383838" stroke-width="1.4"/>
<path d="M411.5 1153.5C410.7 1154.8 409.7 1156.1 409 1157.5C406.6 1162.1 404.5 1166.9 402 1171.5C398.1 1178.7 394.2 1186 390 1193C385.5 1200.5 380.8 1207.8 376 1215C371.6 1221.6 367 1228 362.5 1234.5C357.6 1241.7 352.7 1248.8 347.8 1256C342.4 1264 337 1272 331.6 1280C326.3 1287.9 321.1 1295.8 315.8 1303.7C310.6 1311.3 305.1 1318.8 300 1326.5C295.6 1333.2 291.6 1340.1 287.5 1347C283 1354.5 278.7 1362 274.3 1369.5C268.4 1379.4 262.4 1389.1 256.6 1399C252.1 1406.8 247.4 1414.5 243.4 1422.5C239.1 1431.1 235.3 1440.1 231.6 1449C228.4 1456.8 225.3 1464.6 222.7 1472.6C220.3 1480 218.3 1487.5 216.5 1495C214.7 1502.6 213.2 1510.3 212 1518C210.5 1527.3 209.3 1536.6 208.4 1546C207.5 1554.5 207.2 1563.1 206.6 1571.6" fill="none" stroke="#2a2a2a" stroke-width="1.6"/>
<path d="M341.5 1227 L362.5 1234.5" stroke="#3a3a3a" stroke-width="1" fill="none"/>
<path d="M419.6 1330C418.7 1333.3 418 1336.7 417 1340C415.3 1345.7 413.4 1351.4 411.5 1357C409.9 1361.7 408.3 1366.4 406.4 1371C402.5 1380.1 398.7 1389.3 394 1398C389.3 1406.7 383.5 1414.8 378 1423C374.1 1428.8 369.7 1434.2 365.8 1440C360.2 1448.2 355.1 1456.7 349.6 1465C343.8 1473.9 337.8 1482.7 331.9 1491.6C326 1500.4 320.1 1509.2 314.2 1518C307.8 1527.4 301.4 1536.7 295 1546C288.2 1555.9 281.1 1565.6 274.4 1575.6C271.5 1580 268.7 1584.5 266 1589C261.1 1597.2 256.5 1605.5 251.6 1613.7C247.2 1621.1 242.6 1628.3 238.3 1635.8C234.7 1642.1 231.2 1648.5 228 1655C226.8 1657.5 226.1 1660.3 225.2 1663" fill="none" stroke="#222" stroke-width="2"/>
<path d="M402 1409.3C400.3 1413.9 398.8 1418.5 397 1423C394.6 1428.7 392.2 1434.4 389.4 1440C385.2 1448.5 380.6 1456.8 376 1465C371.3 1473.4 366.5 1481.8 361.4 1490C355.7 1499 349.4 1507.6 343.7 1516.6C338.6 1524.6 333.9 1532.9 329 1541C324.7 1548 320.3 1555 316 1562C310.8 1570.3 305.5 1578.6 300.5 1587C295.2 1595.8 290.2 1604.8 285 1613.7C280.1 1622.1 274.9 1630.3 270 1638.7C265.5 1646.5 261.2 1654.4 257 1662.3C253.9 1668.1 250.9 1674.1 248 1680C244.8 1686.6 241.5 1693.2 238.6 1700C234.4 1709.7 230.5 1719.6 226.8 1729.5C224.1 1736.8 221.8 1744.2 219.5 1751.6C217.7 1757.4 216 1763.2 214.3 1769C213.1 1773 212.1 1777 211 1781" fill="none" stroke="#2a2a2a" stroke-width="1.7"/>
<path d="M418.2 1600C417.6 1603.9 417.5 1607.9 416.4 1611.6C414.4 1618.1 411.4 1624.3 409 1630.7C406 1638.5 403.6 1646.6 400.2 1654.3C396.7 1662.4 392.5 1670.2 388.4 1678C383.7 1686.9 378.7 1695.7 373.7 1704.4C368.9 1712.8 364.1 1721.3 359 1729.5C354.3 1737 349.3 1744.4 344.2 1751.6C339.5 1758.2 334.2 1764.4 329.5 1771C326.1 1775.8 323.2 1781 320 1786" fill="none" stroke="#333" stroke-width="1.6"/>
<path d="M378.6 1466 L376.3 1489" stroke="#707070" stroke-width="1.4" fill="none" opacity=".5"/>
<path d="M200.8 152.5L200.8 151L206 144.3L419 144.3L424.3 151L424.3 152.5C424.3 301.7 424.3 450.8 424.3 600C424.3 766.7 424.9 933.3 424.3 1100C424.3 1104.4 423.4 1108.7 422.6 1113C421.9 1116.7 420.5 1120.3 419.6 1124C417.3 1133 414.5 1141.9 413 1151C411.5 1160.4 410.7 1170 410.6 1179.5C410.5 1186.4 411.5 1193.2 412.6 1200C413.7 1206.8 415.8 1213.3 417.3 1220C418.8 1227 420.5 1233.9 421.6 1241C422.6 1248 423.2 1255 423.6 1262C424 1267.7 424.1 1273.3 424 1279C423.9 1286.9 423.7 1294.8 423 1302.7C422.2 1311.8 420.9 1320.9 419.6 1330C418.6 1336.7 417.3 1343.3 416 1350C414.7 1357 413.4 1364 411.8 1371C409.9 1379.4 407.7 1387.7 405.6 1396C404.5 1400.4 403.2 1404.9 402 1409.3L402 1409.3C403.5 1413.8 404.9 1418.2 406.4 1422.7C408.3 1428.5 410.2 1434.2 412 1440C414.1 1446.6 416.5 1453.2 418 1460C419.9 1468.6 421.4 1477.3 422.3 1486C423.3 1495.5 423.7 1505.1 423.8 1514.7C423.9 1524.1 423.4 1533.6 422.8 1543C422.3 1550.7 421.2 1558.3 420.6 1566C420 1573.8 420 1581.7 419.2 1589.5C418.2 1599.4 417.1 1609.3 415 1619C413 1628.2 409.6 1637 407 1646C405.2 1652.2 403.5 1658.4 401.7 1664.6L401.7 1664.6C404 1671.4 406.5 1678.1 408.5 1685C411.3 1694.8 413.9 1704.7 416 1714.7C418.1 1724.4 419.8 1734.2 421 1744C422 1752.6 422.3 1761.3 422.6 1770C422.7 1773.7 422.5 1777.3 422.4 1781L421 1785.5L417 1786.8L374 1787L365.5 1785.2L360 1779L355.8 1776.6L348 1778.7L328 1785.3L315 1787.7L293 1784L281 1780.5L272.5 1777.6L266.6 1779.2L257.5 1785.5L208 1787.2L203.5 1785.6L202.2 1781C202.1 1777.3 201.8 1773.7 202 1770C202.4 1761.3 202.9 1752.6 204 1744C205.3 1734.2 207 1724.4 209.3 1714.7C211.7 1704.7 215 1694.9 218 1685C220.3 1677.6 222.8 1670.3 225.2 1663L225.2 1663C222.8 1654.2 220 1645.5 218 1636.6C215.1 1623.4 212.9 1610.1 210.6 1596.8C209.1 1588.4 207.8 1580 206.6 1571.6C205.2 1562.1 203.8 1552.6 202.9 1543C202 1533.6 201.3 1524.1 201.2 1514.7C201 1505.1 201.2 1495.5 202 1486C202.7 1477.5 204.1 1469.1 205.8 1460.8C207.4 1452.9 209.5 1445.1 211.7 1437.3C213.4 1431.3 215.5 1425.5 217.6 1419.6C218.8 1416.1 220.2 1412.7 221.5 1409.3L221.5 1409.3C220.2 1404.9 218.7 1400.5 217.6 1396C215.4 1387.2 213.5 1378.4 211.7 1369.5C209.8 1359.7 208.2 1349.8 206.5 1340C205.5 1334 204.2 1328 203.4 1322C202.5 1314.7 201.7 1307.4 201.4 1300C201.1 1293 201.1 1286 201.6 1279C202.2 1269.5 203.4 1260 204.6 1250.5C205.4 1244.2 206.6 1237.9 207.7 1231.6C208.7 1225.9 210.1 1220.4 211 1214.7C211.9 1209.2 212.8 1203.6 213.2 1198C213.5 1193.7 213.4 1189.3 213.2 1185C213 1179.5 212.5 1173.9 212 1168.4C211.5 1162.8 211 1157.2 210.3 1151.6C209.6 1145.9 208.7 1140.3 207.7 1134.7C206.7 1129.1 205.7 1123.5 204.4 1118C203.8 1115.5 202.8 1113 202.2 1110.5C201.6 1108 200.8 1105.5 200.8 1103C200.3 935.3 200.8 767.7 200.8 600C200.8 450.8 200.8 301.7 200.8 152.5Z" fill="none" stroke="#3a3a3a" stroke-width="7" filter="url(#bEdge)" opacity=".55"/>
</g>
<path d="M200.8 152.5L200.8 151L206 144.3L419 144.3L424.3 151L424.3 152.5C424.3 301.7 424.3 450.8 424.3 600C424.3 766.7 424.9 933.3 424.3 1100C424.3 1104.4 423.4 1108.7 422.6 1113C421.9 1116.7 420.5 1120.3 419.6 1124C417.3 1133 414.5 1141.9 413 1151C411.5 1160.4 410.7 1170 410.6 1179.5C410.5 1186.4 411.5 1193.2 412.6 1200C413.7 1206.8 415.8 1213.3 417.3 1220C418.8 1227 420.5 1233.9 421.6 1241C422.6 1248 423.2 1255 423.6 1262C424 1267.7 424.1 1273.3 424 1279C423.9 1286.9 423.7 1294.8 423 1302.7C422.2 1311.8 420.9 1320.9 419.6 1330C418.6 1336.7 417.3 1343.3 416 1350C414.7 1357 413.4 1364 411.8 1371C409.9 1379.4 407.7 1387.7 405.6 1396C404.5 1400.4 403.2 1404.9 402 1409.3L402 1409.3C403.5 1413.8 404.9 1418.2 406.4 1422.7C408.3 1428.5 410.2 1434.2 412 1440C414.1 1446.6 416.5 1453.2 418 1460C419.9 1468.6 421.4 1477.3 422.3 1486C423.3 1495.5 423.7 1505.1 423.8 1514.7C423.9 1524.1 423.4 1533.6 422.8 1543C422.3 1550.7 421.2 1558.3 420.6 1566C420 1573.8 420 1581.7 419.2 1589.5C418.2 1599.4 417.1 1609.3 415 1619C413 1628.2 409.6 1637 407 1646C405.2 1652.2 403.5 1658.4 401.7 1664.6L401.7 1664.6C404 1671.4 406.5 1678.1 408.5 1685C411.3 1694.8 413.9 1704.7 416 1714.7C418.1 1724.4 419.8 1734.2 421 1744C422 1752.6 422.3 1761.3 422.6 1770C422.7 1773.7 422.5 1777.3 422.4 1781L421 1785.5L417 1786.8L374 1787L365.5 1785.2L360 1779L355.8 1776.6L348 1778.7L328 1785.3L315 1787.7L293 1784L281 1780.5L272.5 1777.6L266.6 1779.2L257.5 1785.5L208 1787.2L203.5 1785.6L202.2 1781C202.1 1777.3 201.8 1773.7 202 1770C202.4 1761.3 202.9 1752.6 204 1744C205.3 1734.2 207 1724.4 209.3 1714.7C211.7 1704.7 215 1694.9 218 1685C220.3 1677.6 222.8 1670.3 225.2 1663L225.2 1663C222.8 1654.2 220 1645.5 218 1636.6C215.1 1623.4 212.9 1610.1 210.6 1596.8C209.1 1588.4 207.8 1580 206.6 1571.6C205.2 1562.1 203.8 1552.6 202.9 1543C202 1533.6 201.3 1524.1 201.2 1514.7C201 1505.1 201.2 1495.5 202 1486C202.7 1477.5 204.1 1469.1 205.8 1460.8C207.4 1452.9 209.5 1445.1 211.7 1437.3C213.4 1431.3 215.5 1425.5 217.6 1419.6C218.8 1416.1 220.2 1412.7 221.5 1409.3L221.5 1409.3C220.2 1404.9 218.7 1400.5 217.6 1396C215.4 1387.2 213.5 1378.4 211.7 1369.5C209.8 1359.7 208.2 1349.8 206.5 1340C205.5 1334 204.2 1328 203.4 1322C202.5 1314.7 201.7 1307.4 201.4 1300C201.1 1293 201.1 1286 201.6 1279C202.2 1269.5 203.4 1260 204.6 1250.5C205.4 1244.2 206.6 1237.9 207.7 1231.6C208.7 1225.9 210.1 1220.4 211 1214.7C211.9 1209.2 212.8 1203.6 213.2 1198C213.5 1193.7 213.4 1189.3 213.2 1185C213 1179.5 212.5 1173.9 212 1168.4C211.5 1162.8 211 1157.2 210.3 1151.6C209.6 1145.9 208.7 1140.3 207.7 1134.7C206.7 1129.1 205.7 1123.5 204.4 1118C203.8 1115.5 202.8 1113 202.2 1110.5C201.6 1108 200.8 1105.5 200.8 1103C200.3 935.3 200.8 767.7 200.8 600C200.8 450.8 200.8 301.7 200.8 152.5Z" fill="none" stroke="#141414" stroke-width="2.8" stroke-linejoin="round"/>
<line x1="108.6" y1="39.8" x2="142" y2="39.8" stroke="#1a171b" stroke-width="4"/>
<polygon points="141.2,16.7 199,40 141.2,63.2" fill="#1a171b"/>
<line x1="201" y1="13.4" x2="200.7" y2="139.5" stroke="#1a171b" stroke-width="3.8"/>
<line x1="423.3" y1="17.6" x2="424.9" y2="132" stroke="#1a171b" stroke-width="3.8"/>
<polygon points="483.5,22 425.4,45 483.5,68.8" fill="#1a171b"/>
<line x1="483" y1="44.7" x2="513.4" y2="44.7" stroke="#1a171b" stroke-width="4"/>
<line x1="428.8" y1="139" x2="894" y2="139" stroke="#1a171b" stroke-width="4"/>
<polygon points="870.5,140.8 846.8,197.9 894,197.9" fill="#1a171b"/>
<line x1="870.5" y1="197" x2="870.5" y2="898.7" stroke="#1a171b" stroke-width="4"/>
<line x1="870.5" y1="1007.4" x2="870.5" y2="1728" stroke="#1a171b" stroke-width="4"/>
<polygon points="870.8,1783.4 847.4,1726.8 894.6,1726.8" fill="#1a171b"/>
<line x1="436.7" y1="1785.5" x2="894.6" y2="1785.5" stroke="#1a171b" stroke-width="4"/>
<line x1="431" y1="1249.6" x2="674.2" y2="1249.6" stroke="#1a171b" stroke-width="4"/>
<polygon points="648.3,1252 625.3,1308.3 672,1308.3" fill="#1a171b"/>
<line x1="648.3" y1="1307.5" x2="648.3" y2="1465.4" stroke="#1a171b" stroke-width="4"/>
<line x1="648.3" y1="1556.4" x2="648.3" y2="1728" stroke="#1a171b" stroke-width="4"/>
<polygon points="648.3,1783.4 624.9,1726.8 671.7,1726.8" fill="#1a171b"/>
<line x1="111.6" y1="1848.4" x2="141" y2="1848.4" stroke="#1a171b" stroke-width="4"/>
<polygon points="140.2,1825.3 197.8,1848.6 140.2,1872" fill="#1a171b"/>
<line x1="198.8" y1="1794.5" x2="198.8" y2="1874.5" stroke="#1a171b" stroke-width="4"/>
<line x1="428" y1="1789.5" x2="428" y2="1876.4" stroke="#1a171b" stroke-width="4"/>
<polygon points="429.7,1851 487,1827.7 487,1874" fill="#1a171b"/>
<line x1="486" y1="1851" x2="517.6" y2="1851" stroke="#1a171b" stroke-width="4"/>
<polyline points="0,1825.7 119.8,1825.7 151,1806.5" fill="none" stroke="#1a171b" stroke-width="4"/>
<polygon points="199.5,1779.9 138.8,1785.3 160.4,1826.5" fill="#1a171b"/>
<text x="203.1 266.2 344" y="78.6" font-size="93">DMM</text>
<text x="771.9 841.4 900.8" y="988.7" font-size="93">OAL</text>
<text x="516.4 579.9 643 715.2 771.4" y="1539.2" font-size="93" transform="scale(0.95,1)">APMXS</text>
<text x="14.7 85.8" y="1812.9" font-size="93" transform="scale(0.815,1)">RE</text>
<text x="248.7 311.1" y="1882.9" font-size="93">DC</text>
</svg></body></html>
